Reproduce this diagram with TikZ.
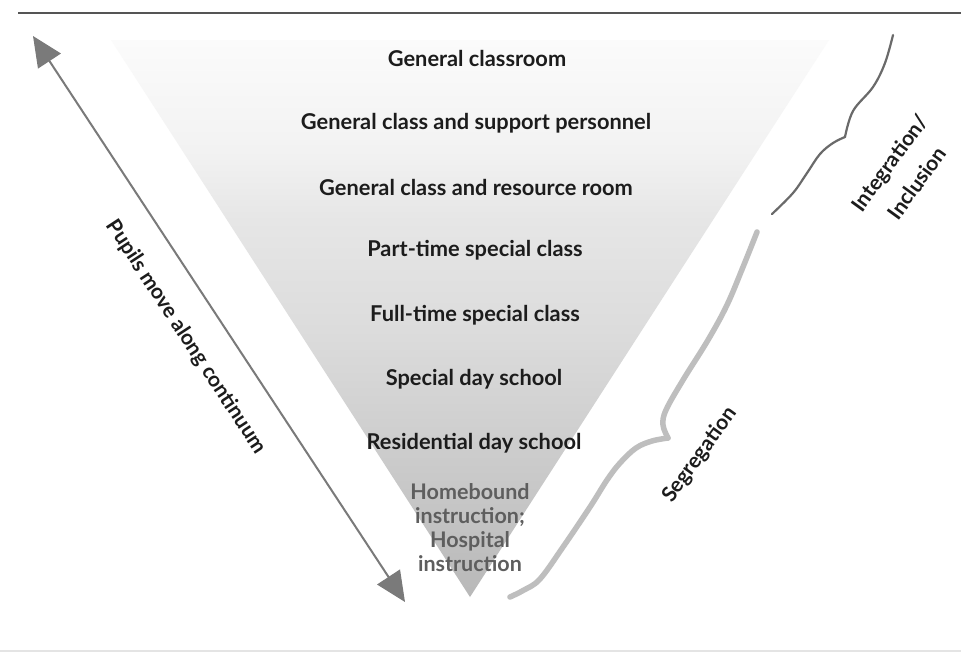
\documentclass[tikz,border=0pt]{standalone}
\usepackage{fontspec}
\setmainfont{Lato}
\usetikzlibrary{arrows.meta}
\definecolor{ink}{HTML}{1C1C1C}
\definecolor{softink}{HTML}{5E5E5E}
\definecolor{arrowgray}{HTML}{7A7A7A}
\definecolor{rulegray}{HTML}{555555}
\definecolor{faintrule}{HTML}{E4E4E4}
\definecolor{bracelight}{HTML}{BEBEBE}
\definecolor{bracedark}{HTML}{6A6A6A}
% grey ramp of the placement wedge, darkest at the apex
% (TikZ fits the path box to the 25bp..75bp band of a shading)
\definecolor{shadeA}{HTML}{B8B8B8}
\definecolor{shadeB}{HTML}{C6C6C6}
\definecolor{shadeC}{HTML}{DCDCDC}
\definecolor{shadeD}{HTML}{E6E6E6}
\definecolor{shadeE}{HTML}{F2F2F2}
\definecolor{shadeF}{HTML}{FBFBFB}
\pgfdeclareverticalshading{wedgeshade}{100bp}{%
  color(0bp)=(shadeA); color(25bp)=(shadeA); color(33.7bp)=(shadeB);
  color(49bp)=(shadeC); color(58.8bp)=(shadeD); color(65.1bp)=(shadeE);
  color(75bp)=(shadeF); color(100bp)=(shadeF)}
\begin{document}
\begin{tikzpicture}[x=1pt,y=-1pt,
  level/.style={font=\bfseries\fontsize{21.8}{24}\selectfont, text=ink, inner sep=0pt},
  faintlevel/.style={font=\bfseries\fontsize{21.5}{24}\selectfont, text=softink, align=center, inner sep=0pt},
  sidelabel/.style={font=\bfseries\fontsize{21}{34}\selectfont, text=ink, inner sep=0pt},
  movearrow/.style={arrowgray, line width=2pt,
    {Triangle[length=30pt,width=27pt]}-{Triangle[length=30pt,width=27pt]}},
  thinbrace/.style={bracedark, line width=2.2pt, line cap=round, line join=round},
  thickbrace/.style={bracelight, line width=5.5pt, line cap=round, line join=round}]
\useasboundingbox (0,0) rectangle (961,654);
\fill[white] (0,0) rectangle (961,654);

% page rules
\draw[rulegray, line width=1.6pt] (18,13) -- (961,13);
\draw[faintrule, line width=1.2pt] (0,651) -- (961,651);

% shaded inverted triangle of placements
\shade[shading=wedgeshade] (111,40) -- (829,40) -- (470,597) -- cycle;

% placement levels
\node[level] (l1) at (477,58)  {General classroom};
\node[level] (l2) at (476,123) {General class and support personnel};
\node[level] (l3) at (476,187) {General class and resource room};
\node[level] (l4) at (475,250) {Part-time special class};
\node[level] (l5) at (475,315) {Full-time special class};
\node[level] (l6) at (474,379) {Special day school};
\node[level] (l7) at (474,443) {Residential day school};
\node[faintlevel] (l8) at (470,528) {Homebound\\instruction;\\Hospital\\instruction};

% two-way movement arrow
\coordinate (moveTop) at (33,36);
\coordinate (moveBottom) at (405,602);
\draw[movearrow] (moveTop) -- (moveBottom);
\node[sidelabel, rotate=-56.8] (move) at (186,337) {Pupils move along continuum};

% brace: integration / inclusion
\coordinate (incTop) at (893,35);
\coordinate (incTip) at (845,137);
\coordinate (incEnd) at (772,214);
\draw[thinbrace] plot[smooth, tension=0.6] coordinates
  {(incTop) (885,63) (873,87) (853,111) (incTip)};
\draw[thinbrace] plot[smooth, tension=0.6] coordinates
  {(incTip) (833,143) (820,154) (807,173) (793,193) (incEnd)};
\node[sidelabel, rotate=54, align=center] (inc) at (903,173) {Integration/\\Inclusion};

% brace: segregation
\coordinate (segTop) at (757,232);
\coordinate (segTip) at (668,438);
\coordinate (segEnd) at (510,597);
\draw[thickbrace] plot[smooth, tension=0.6] coordinates
  {(segTop) (743,267) (727,305) (708,340) (683,380) (666,410) (663,425) (segTip)};
\draw[thickbrace] plot[smooth, tension=0.6] coordinates
  {(segTip) (652,441) (636,448) (620,463) (607,480) (590,507) (563,547) (540,579) (524,590) (segEnd)};
\node[sidelabel, rotate=54] (seg) at (700,455) {Segregation};
\end{tikzpicture}
\end{document}
